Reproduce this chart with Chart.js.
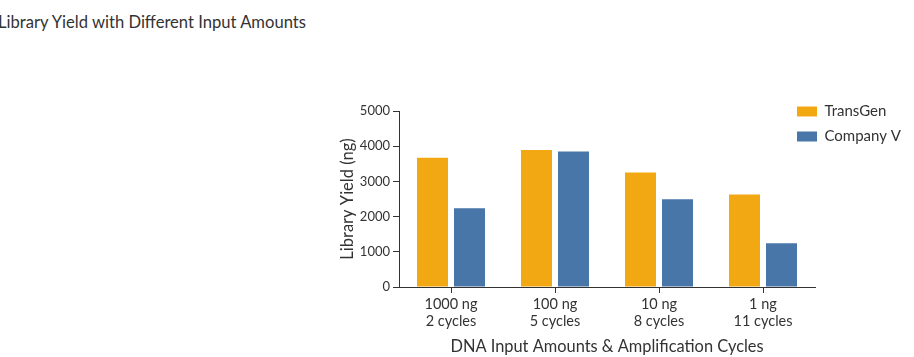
<!DOCTYPE html>
<html>
<head>
<meta charset="utf-8">
<script src="https://cdn.jsdelivr.net/npm/chart.js@4"></script>
<style>
  html, body { margin: 0; padding: 0; background: #fff; }
  #wrap { position: relative; width: 914px; height: 357px; overflow: hidden; }
  #title { position: absolute; left: -2px; top: 12px; font: 16.6px Lato, sans-serif; color: #333; white-space: nowrap; }
  canvas { position: absolute; left: 0; top: 0; }
</style>
</head>
<body>
<div id="wrap">
  <div id="title">Library Yield with Different Input Amounts</div>
  <canvas id="c" width="914" height="357"></canvas>
</div>
<script>
const categories = [['1000 ng', '2 cycles'], ['100 ng', '5 cycles'], ['10 ng', '8 cycles'], ['1 ng', '11 cycles']];
const transGen = [3670, 3890, 3250, 2630];
const companyV = [2240, 3850, 2490, 1240];
const seriesNames = ['TransGen', 'Company V'];
const yTicks = [0, 1000, 2000, 3000, 4000, 5000];

const FONT = 'Lato, sans-serif';
const TEXT = '#333';

const moveLegend = {
  id: 'moveLegend',
  afterLayout(chart) {
    const l = chart.legend;
    const w = l.width, h = l.height;
    l.left = 787; l.top = 94; l.right = l.left + w; l.bottom = l.top + h;
  }
};

new Chart(document.getElementById('c'), {
  type: 'bar',
  data: {
    labels: categories,
    datasets: [
      { label: seriesNames[0], data: transGen, backgroundColor: '#F2A812', borderWidth: 0,
        categoryPercentage: 0.7115, barPercentage: 0.838 },
      { label: seriesNames[1], data: companyV, backgroundColor: '#4876A8', borderWidth: 0,
        categoryPercentage: 0.7115, barPercentage: 0.838 }
    ]
  },
  options: {
    responsive: false,
    animation: false,
    layout: { padding: { left: 336, right: 99, top: 111, bottom: 0 } },
    plugins: {
      title: { display: false },
      tooltip: { enabled: false },
      legend: {
        position: 'chartArea',
        align: 'start',
        labels: {
          boxWidth: 20, boxHeight: 10, padding: 10,
          font: { family: FONT, size: 15 }, color: TEXT
        }
      }
    },
    scales: {
      x: {
        afterFit(s) { s.height = 70; },
        grid: { display: true, drawOnChartArea: false, drawTicks: true, tickLength: 6, offset: false, color: '#333' },
        border: { display: true, color: '#333', width: 1 },
        ticks: { color: TEXT, font: { family: FONT, size: 14.5, lineHeight: 1.15 }, padding: 3, maxRotation: 0 },
        title: { display: true, text: 'DNA Input Amounts & Amplification Cycles', color: TEXT,
                 font: { family: FONT, size: 16.4 }, padding: { top: 0, bottom: 0 } }
      },
      y: {
        min: 0, max: 5000,
        afterFit(s) { s.width = 63; },
        afterBuildTicks(s) { s.ticks = yTicks.map(v => ({ value: v })); },
        grid: { display: true, drawOnChartArea: false, drawTicks: true, tickLength: 6, color: '#333' },
        border: { display: true, color: '#333', width: 1 },
        ticks: { color: TEXT, font: { family: FONT, size: 13 }, padding: 3, callback: v => String(v) },
        title: { display: true, text: 'Library Yield (ng)', color: TEXT,
                 font: { family: FONT, size: 16.5 }, padding: { top: 2, bottom: 4 } }
      }
    }
  },
  plugins: [moveLegend]
});
</script>
</body>
</html>
